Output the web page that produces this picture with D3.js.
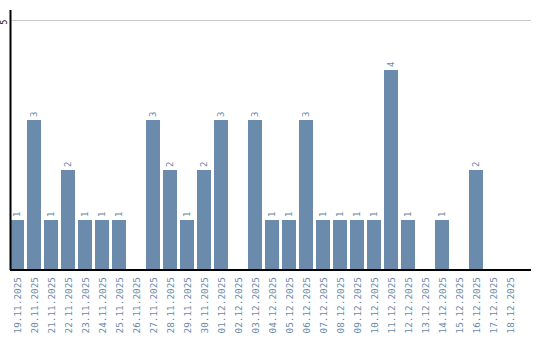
<!DOCTYPE html>
<html>
<head>
<meta charset="utf-8">
<script src="https://cdn.jsdelivr.net/npm/d3@7"></script>
<style>
  body { margin: 0; background: #fff; }
  svg { display: block; }
</style>
</head>
<body>
<div id="chart"></div>
<script>
// daily counts
const dates = [
    "19.11.2025", "20.11.2025", "21.11.2025", "22.11.2025", "23.11.2025",
    "24.11.2025", "25.11.2025", "26.11.2025", "27.11.2025", "28.11.2025",
    "29.11.2025", "30.11.2025", "01.12.2025", "02.12.2025", "03.12.2025",
    "04.12.2025", "05.12.2025", "06.12.2025", "07.12.2025", "08.12.2025",
    "09.12.2025", "10.12.2025", "11.12.2025", "12.12.2025", "13.12.2025",
    "14.12.2025", "15.12.2025", "16.12.2025", "17.12.2025", "18.12.2025"
];
const counts = [1, 3, 1, 2, 1, 1, 1, 0, 3, 2, 1, 2, 3, 0, 3, 1, 1, 3, 1, 1, 1, 1, 4, 1, 0, 1, 0, 2, 0, 0];
const yTicks = [5];

const width = 540, height = 340;
const barColor = "#6a8bab";
const textColor = "#6a8bab";

const svg = d3.select("#chart").append("svg")
    .attr("width", width)
    .attr("height", height);

const x = d3.scaleBand()
    .domain(dates)
    .range([10, 517])
    .paddingInner(3 / 17)
    .paddingOuter(0);

const y = d3.scaleLinear()
    .domain([0, 5])
    .range([270, 20]);

const data = dates.map((d, i) => ({ date: d, count: counts[i] }));

// grid line
svg.selectAll("line.grid")
    .data(yTicks)
    .enter()
    .append("line")
    .attr("x1", 11)
    .attr("x2", 531)
    .attr("y1", d => y(d) + 0.5)
    .attr("y2", d => y(d) + 0.5)
    .attr("stroke", "#c8c8c8")
    .attr("stroke-width", 1);

// bars
svg.selectAll("rect.bar")
    .data(data)
    .enter()
    .append("rect")
    .attr("x", d => x(d.date))
    .attr("y", d => y(d.count))
    .attr("width", x.bandwidth())
    .attr("height", d => y(0) - y(d.count))
    .attr("fill", barColor);

// value labels above bars
svg.selectAll("text.value")
    .data(data.filter(d => d.count > 0))
    .enter()
    .append("text")
    .attr("transform", d => `translate(${x(d.date) + x.bandwidth() / 2 + 3}, ${y(d.count) - 3}) rotate(-90)`)
    .attr("font-family", "DejaVu Sans Mono, monospace")
    .attr("font-size", "9px")
    .attr("fill", textColor)
    .text(d => d.count);

// axes lines
svg.append("line")
    .attr("x1", 10.5).attr("x2", 10.5)
    .attr("y1", 10).attr("y2", 270)
    .attr("stroke", "#000").attr("stroke-width", 2);

svg.append("line")
    .attr("x1", 10).attr("x2", 531)
    .attr("y1", 270).attr("y2", 270)
    .attr("stroke", "#000").attr("stroke-width", 2);

// y tick labels
svg.selectAll("text.ytick")
    .data(yTicks)
    .enter()
    .append("text")
    .attr("transform", d => `translate(6.5, ${y(d) + 2}) rotate(-90)`)
    .attr("text-anchor", "middle")
    .attr("font-family", "DejaVu Sans Mono, monospace")
    .attr("font-size", "8px")
    .attr("fill", "#000")
    .text(d => d);

// x labels
svg.selectAll("text.xlabel")
    .data(dates)
    .enter()
    .append("text")
    .attr("transform", d => `translate(${x(d) + x.bandwidth() / 2 + 3.5}, 277) rotate(-90)`)
    .attr("text-anchor", "end")
    .attr("font-family", "DejaVu Sans Mono, monospace")
    .attr("font-size", "9.4px")
    .attr("fill", textColor)
    .text(d => d);
</script>
</body>
</html>
